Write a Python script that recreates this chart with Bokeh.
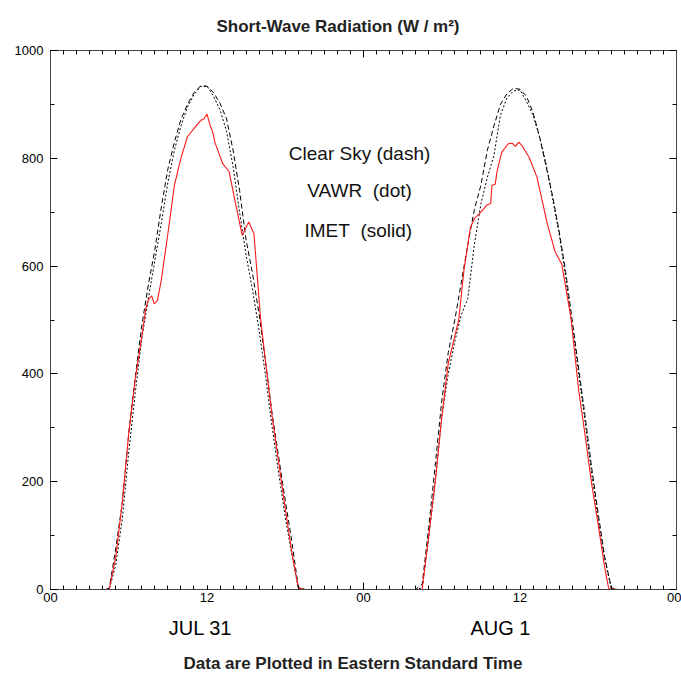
from bokeh.plotting import figure
from bokeh.models import Range1d, LinearAxis, FixedTicker, Title, Label
from bokeh.embed import file_html
from bokeh.resources import INLINE

# ---- data -------------------------------------------------------------
# half-hour grid (hours of the day) for the clear-sky model and VAWR
grid_hours = [0.0, 4.0, 4.5, 5.0, 5.5, 6.0, 6.5, 7.0, 7.5, 8.0, 8.5, 9.0, 9.5,
              10.0, 10.5, 11.0, 11.5, 12.0, 12.5, 13.0, 13.5, 14.0, 14.5, 15.0,
              15.5, 16.0, 16.5, 17.0, 17.5, 18.0, 18.5, 19.0, 19.5, 24.0]

clear_jul31 = [0, 0, 2, 75, 160, 290, 395, 490, 565, 630, 710, 780, 830, 872, 900,
               922, 934, 934, 922, 902, 873, 815, 740, 648, 585, 510, 420, 325,
               245, 165, 90, 5, 0, 0]
clear_aug1 = [0, 0, 10, 115, 230, 350, 440, 500, 570, 640, 705, 750, 815, 860, 900,
              920, 930, 928, 915, 885, 840, 785, 730, 665, 590, 500, 410, 320,
              225, 140, 60, 3, 0, 0]

vawr_jul31 = [0, 0, 0, 45, 130, 255, 365, 465, 540, 610, 680, 755, 815, 860, 895,
              918, 933, 934, 915, 890, 850, 785, 700, 620, 555, 480, 395, 300,
              215, 135, 65, 3, 0, 0]
vawr_aug1 = [0, 0, 3, 95, 200, 320, 400, 460, 510, 540, 640, 715, 765, 805, 880,
             912, 925, 927, 905, 880, 840, 790, 725, 660, 580, 490, 400, 310,
             215, 130, 55, 2, 0, 0]

# IMET buoy record (hours of the day, W/m2)
imet_hours_jul31 = [0.0, 4.5, 5.0, 5.5, 6.0, 6.5, 7.0, 7.3, 7.5, 7.75, 7.95, 8.2,
                    8.5, 9.0, 9.5, 10.0, 10.5, 11.0, 11.5, 11.75, 12.0, 12.25,
                    12.45, 12.6, 13.2, 13.7, 14.2, 14.7, 15.2, 15.6, 16.1, 16.5,
                    17.0, 17.5, 18.0, 18.5, 19.0, 19.5, 24.0]
imet_jul31 = [0, 0, 60, 160, 290, 390, 470, 520, 538, 545, 530, 536, 575, 660,
              750, 800, 840, 855, 870, 873, 882, 860, 848, 830, 790, 775, 715,
              657, 682, 660, 505, 420, 320, 235, 150, 70, 3, 0, 0]

imet_hours_aug1 = [0.0, 4.5, 5.0, 5.5, 6.0, 6.5, 7.0, 7.3, 7.7, 8.0, 8.2, 8.5,
                   9.0, 9.5, 9.75, 9.85, 10.1, 10.25, 10.6, 11.1, 11.4, 11.65,
                   11.9, 12.2, 12.7, 13.3, 14.1, 14.7, 15.2, 15.9, 16.5, 17.0,
                   17.5, 18.0, 18.5, 18.8, 19.5, 24.0]
imet_aug1 = [0, 0, 100, 200, 320, 420, 470, 500, 592, 640, 672, 688, 700, 714,
             716, 750, 752, 777, 811, 827, 828, 822, 830, 822, 802, 765, 678,
             626, 604, 505, 370, 285, 195, 120, 40, 2, 0, 0]

# axis ticks and labels
hour_ticks = list(range(0, 49))
label_hours = [0, 12, 24, 36, 48]
hour_labels = ["00", "12", "00", "12", "00"]
day_starts = [0, 24, 48]
day_label_hours = [11.5, 34.5]
day_labels = ["JUL 31", "AUG 1"]
y_major = [0, 200, 400, 600, 800, 1000]
y_minor = list(range(0, 1001, 100))

legend_texts = ["Clear Sky (dash)", "VAWR\u00a0\u00a0(dot)", "IMET\u00a0\u00a0(solid)"]
legend_x = [23.7, 23.7, 23.6]
legend_y = [809, 740, 666]


def two_days(h1, v1, h2, v2):
    return list(h1) + [h + 24 for h in h2], list(v1) + list(v2)


clear_t, clear_v = two_days(grid_hours, clear_jul31, grid_hours, clear_aug1)
vawr_t, vawr_v = two_days(grid_hours, vawr_jul31, grid_hours, vawr_aug1)
imet_t, imet_v = two_days(imet_hours_jul31, imet_jul31, imet_hours_aug1, imet_aug1)

# ---- figure -----------------------------------------------------------
FONT = "Liberation Sans"
AXIS_COLOR = "#444444"

p = figure(width=681, height=682, x_range=Range1d(0, 48), y_range=Range1d(0, 1000),
           min_border_left=50, min_border_right=5, min_border_top=50,
           min_border_bottom=93, output_backend="svg", toolbar_location=None,
           title=None)
p.grid.visible = False
p.outline_line_color = None
p.background_fill_color = "white"
p.border_fill_color = "white"


def style_axis(ax, major_in, minor_in):
    ax.axis_line_color = AXIS_COLOR
    ax.axis_line_width = 1
    ax.major_tick_line_color = "black"
    ax.minor_tick_line_color = "black"
    ax.major_tick_in = major_in
    ax.major_tick_out = 0
    ax.minor_tick_in = minor_in
    ax.minor_tick_out = 0
    ax.major_label_text_font = FONT
    ax.major_label_text_font_size = "13px"
    ax.major_label_text_color = "black"


def blank_labels(ax, ticks):
    ax.major_label_overrides = {t: "" for t in ticks}
    ax.major_label_standoff = 0


# bottom hour axis
xb = p.xaxis[0]
xb.ticker = FixedTicker(ticks=label_hours, minor_ticks=hour_ticks)
xb.major_label_overrides = {h: s for h, s in zip(label_hours, hour_labels)}
style_axis(xb, 4, 4)
xb.major_label_standoff = 3

# day labels underneath
xd = LinearAxis(ticker=FixedTicker(ticks=day_label_hours, minor_ticks=[]),
                major_label_overrides={h: s for h, s in zip(day_label_hours, day_labels)})
xd.axis_line_color = None
xd.major_tick_line_color = None
xd.minor_tick_line_color = None
xd.major_label_text_font = FONT
xd.major_label_text_font_size = "20px"
xd.major_label_text_color = "black"
xd.major_label_standoff = 6
p.add_layout(xd, "below")

# top axis: hourly ticks only (no labels), long day-boundary ticks drawn below
xt = LinearAxis(ticker=FixedTicker(ticks=[], minor_ticks=hour_ticks))
style_axis(xt, 7, 4)
xt.major_label_standoff = 0
p.add_layout(xt, "above")

# left / right value axes
yl = p.yaxis[0]
yl.ticker = FixedTicker(ticks=y_major, minor_ticks=y_minor)
style_axis(yl, 7, 4)
yl.major_label_standoff = 7

yr = LinearAxis(ticker=FixedTicker(ticks=y_major, minor_ticks=y_minor))
style_axis(yr, 7, 4)
blank_labels(yr, y_major)
p.add_layout(yr, "right")

# longer ticks at the midnight between the two days (bottom and top edges)
tick_len = 7 * 1000 / 539
mid = day_starts[1:2]
p.segment(x0=mid * 2, y0=[0, 1000 - tick_len], x1=mid * 2, y1=[tick_len, 1000],
          line_color="black", line_width=1)

# ---- series -----------------------------------------------------------
p.line(clear_t, clear_v, line_color="black", line_width=1, line_dash="5 3")
p.line(vawr_t, vawr_v, line_color="black", line_width=1, line_dash="2 2")
p.line(imet_t, imet_v, line_color="#ff1a1a", line_width=1.1)

for txt, lx, ly in zip(legend_texts, legend_x, legend_y):
    p.add_layout(Label(x=lx, y=ly, text=txt, text_align="center",
                       text_baseline="middle", text_font=FONT,
                       text_font_size="19px", text_color="#111111"))

# ---- titles -----------------------------------------------------------
p.add_layout(Title(text="Short-Wave Radiation (W / m\u00b2)", align="left",
                   text_font=FONT, text_font_size="17px", text_font_style="bold",
                   text_color="#222222", offset=166, standoff=29), "above")
p.add_layout(Title(text="Data are Plotted in Eastern Standard Time", align="left",
                   text_font=FONT, text_font_size="17px", text_font_style="bold",
                   text_color="#222222", offset=133, standoff=20), "below")

open("out.html", "w").write(file_html(p, INLINE))
